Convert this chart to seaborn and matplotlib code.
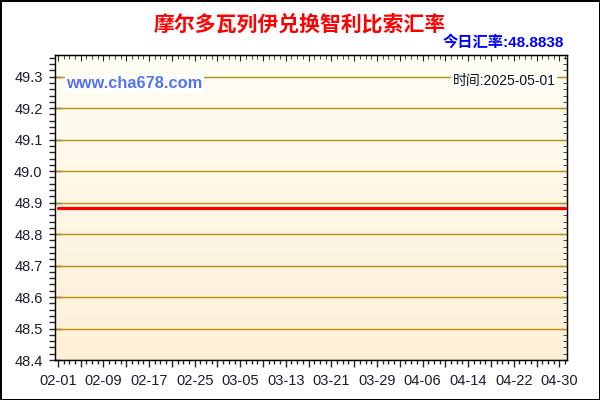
import numpy as np
import pandas as pd
import seaborn as sns
import matplotlib.pyplot as plt
from matplotlib.ticker import FixedLocator, FixedFormatter, MultipleLocator
from matplotlib.colors import LinearSegmentedColormap

# data: daily MDL -> CLP rate, flat over the whole period
start = "2025-02-01"
end = "2025-05-01"
dates = pd.date_range(start, end, freq="D")
rate_today = 48.8838
rates = [rate_today] * len(dates)

tick_labels = ["02-01", "02-09", "02-17", "02-25", "03-05", "03-13",
               "03-21", "03-29", "04-06", "04-14", "04-22", "04-30"]
y_ticks = [48.4, 48.5, 48.6, 48.7, 48.8, 48.9, 49.0, 49.1, 49.2, 49.3]

title = "摩尔多瓦列伊兑换智利比索汇率"
site = "www.cha678.com"
stamp = "时间:2025-05-01"

df = pd.DataFrame({"day": (dates - dates[0]).days, "rate": rates})

sns.set_style("ticks")
plt.rcParams["font.family"] = ["Liberation Sans", "Noto Sans CJK SC", "DejaVu Sans"]

fig = plt.figure(figsize=(6, 4), dpi=100)
fig.patch.set_edgecolor("black")
fig.patch.set_linewidth(2)
ax = fig.add_axes([0.0917, 0.1, 0.8533, 0.7625])

# background gradient
cmap = LinearSegmentedColormap.from_list("bg", ["#FDF0D6", "#FFFEF4"])
ax.imshow(np.linspace(0, 1, 256).reshape(-1, 1), cmap=cmap, origin="lower",
          extent=[0, 1, 0, 1], transform=ax.transAxes, aspect="auto", zorder=0)

for y in y_ticks:
    ax.axhline(y, color="#BE8E14", lw=1, zorder=1)

sns.lineplot(data=df, x="day", y="rate", color="#FF0000", lw=2.3, ax=ax, zorder=3)

ax.set_xlim(-0.5, df["day"].iloc[-1] + 0.35)
ax.set_ylim(48.4, 49.369)
ax.set_xlabel("")
ax.set_ylabel("")

# x ticks: labels every 8 days, major every 4, minor every day
major_pos = list(range(0, df["day"].iloc[-1] + 1, 4))
major_txt = [tick_labels[p // 8] if p % 8 == 0 and p // 8 < len(tick_labels) else "" for p in major_pos]
ax.xaxis.set_major_locator(FixedLocator(major_pos))
ax.xaxis.set_major_formatter(FixedFormatter(major_txt))
ax.xaxis.set_minor_locator(MultipleLocator(1))
ax.tick_params(axis="x", which="major", direction="out", length=5, width=1, pad=5,
               labelsize=10.5, labelcolor="#1c1c2c")
ax.tick_params(axis="x", which="minor", direction="out", length=3, width=1)

ax.yaxis.set_major_locator(FixedLocator(y_ticks))
ax.yaxis.set_major_formatter(FixedFormatter([f"{v:.1f}" for v in y_ticks]))
ax.yaxis.set_minor_locator(MultipleLocator(0.02))
ax.tick_params(axis="y", which="major", direction="inout", length=8, width=1, pad=5,
               labelsize=10.5, labelcolor="#1c1c2c")
ax.tick_params(axis="y", which="minor", direction="out", length=4, width=1)

top = ax.secondary_xaxis("top")
top.xaxis.set_major_locator(FixedLocator(major_pos))
top.xaxis.set_minor_locator(MultipleLocator(1))
top.tick_params(which="major", direction="in", length=4, labeltop=False)
top.tick_params(which="minor", direction="in", length=3)
right = ax.secondary_yaxis("right")
right.yaxis.set_major_locator(FixedLocator(y_ticks))
right.yaxis.set_minor_locator(MultipleLocator(0.02))
right.tick_params(which="major", direction="in", length=5, labelright=False)
right.tick_params(which="minor", direction="in", length=3)

for s in ax.spines.values():
    s.set_color("black")
    s.set_linewidth(1)
    s.set_visible(True)

fig.text(0.5, 0.94, title, ha="center", va="center", fontsize=15,
         fontweight="bold", color="#FF0000")
fig.text(0.94, 0.895, f"今日汇率:{rate_today}", ha="right", va="center",
         fontsize=11, fontweight="bold", color="#0000FF")
ax.text(0.022, 0.905, site, transform=ax.transAxes, ha="left", va="center",
        fontsize=11.8, fontweight="bold", color="#5472F0", zorder=4,
        bbox=dict(facecolor="white", edgecolor="none", pad=1))
ax.text(0.978, 0.915, stamp, transform=ax.transAxes, ha="right", va="center",
        fontsize=10, color="#111111", zorder=4,
        bbox=dict(facecolor="white", edgecolor="none", pad=1))

fig.savefig("out.png", dpi=100)
